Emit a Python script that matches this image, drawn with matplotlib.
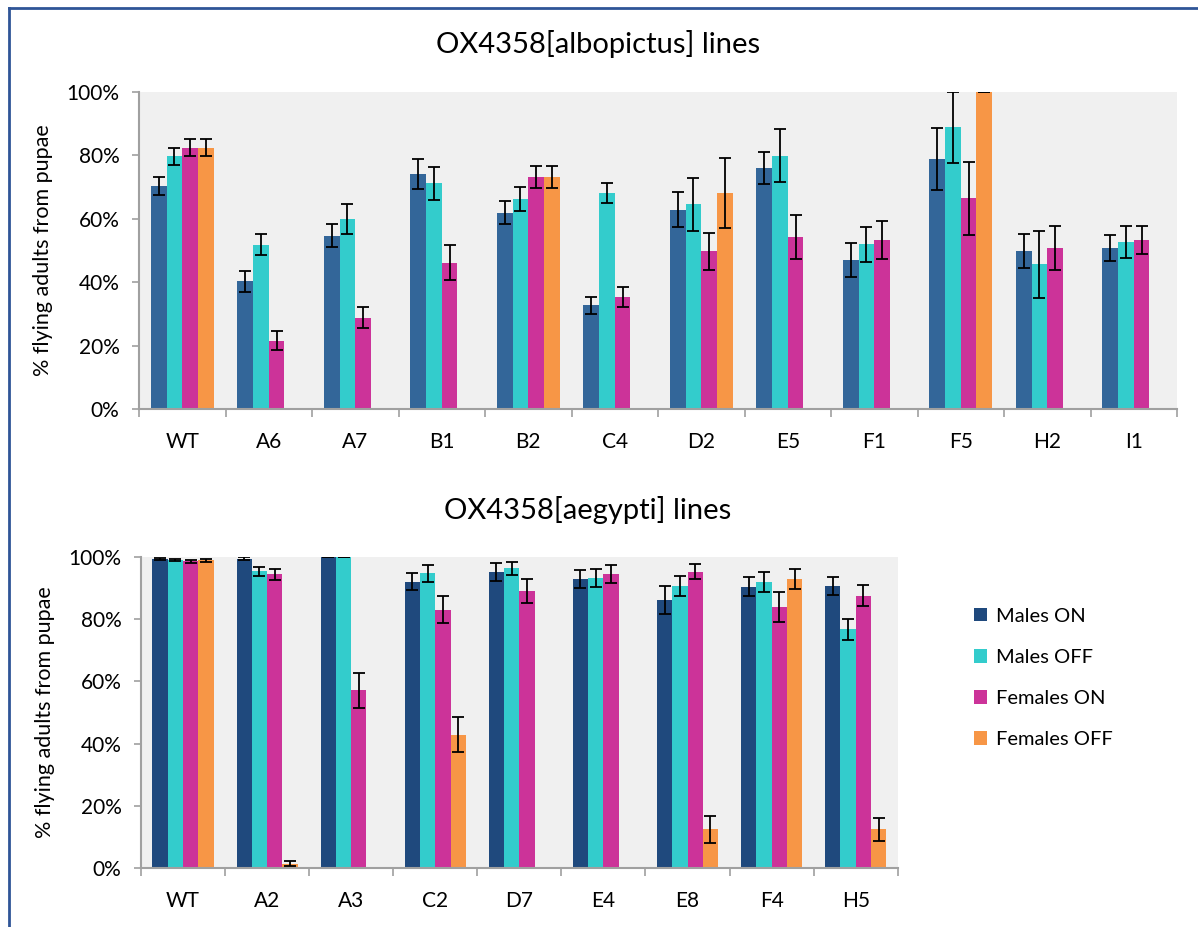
import numpy as np
import matplotlib
matplotlib.use("Agg")
import matplotlib.pyplot as plt
from matplotlib.patches import Patch
from matplotlib.ticker import FuncFormatter, FixedLocator

plt.rcParams['font.family'] = ['Lato', 'DejaVu Sans']

nan = np.nan
series = ["Males ON", "Males OFF", "Females ON", "Females OFF"]

# Top chart: OX4358[albopictus] lines
alb_cats = ["WT", "A6", "A7", "B1", "B2", "C4", "D2", "E5", "F1", "F5", "H2", "I1"]
alb_males_on = [70.3, 40.3, 54.7, 74.2, 61.9, 32.8, 62.9, 75.9, 46.9, 78.8, 49.8, 50.8]
alb_males_off = [79.6, 51.8, 60.0, 71.1, 66.1, 68.1, 64.5, 79.9, 52.0, 88.8, 45.6, 52.7]
alb_fem_on = [82.4, 21.6, 28.8, 46.2, 73.1, 35.3, 49.7, 54.2, 53.3, 66.5, 50.7, 53.3]
alb_fem_off = [82.4, nan, nan, nan, 73.1, nan, 68.2, nan, nan, 100.0, nan, nan]
alb_males_on_err = [2.9, 3.3, 3.7, 4.7, 3.6, 2.7, 5.5, 5.0, 5.4, 9.7, 5.4, 4.2]
alb_males_off_err = [2.7, 3.3, 4.7, 5.1, 3.8, 3.0, 8.4, 8.2, 5.5, 11.1, 10.4, 5.0]
alb_fem_on_err = [2.6, 3.0, 3.3, 5.6, 3.5, 3.1, 5.7, 6.9, 6.1, 11.5, 6.9, 4.5]
alb_fem_off_err = [2.6, nan, nan, nan, 3.5, nan, 11.0, nan, nan, 0.0, nan, nan]

# Bottom chart: OX4358[aegypti] lines
aeg_cats = ["WT", "A2", "A3", "C2", "D7", "E4", "E8", "F4", "H5"]
aeg_males_on = [99.4, 99.4, 100.0, 92.0, 95.1, 92.7, 86.1, 90.4, 90.5]
aeg_males_off = [98.9, 95.3, 100.0, 94.7, 96.3, 93.2, 90.6, 92.0, 76.7]
aeg_fem_on = [98.6, 94.4, 57.1, 83.0, 89.0, 94.4, 95.1, 83.9, 87.5]
aeg_fem_off = [98.9, 1.4, nan, 42.9, nan, nan, 12.5, 92.7, 12.5]
aeg_males_on_err = [0.3, 0.4, 0.0, 2.7, 2.8, 2.9, 4.4, 3.1, 2.9]
aeg_males_off_err = [0.4, 1.5, 0.0, 2.7, 2.1, 3.0, 3.3, 3.2, 3.4]
aeg_fem_on_err = [0.5, 1.8, 5.7, 4.3, 4.0, 2.8, 2.4, 4.9, 3.4]
aeg_fem_off_err = [0.5, 0.8, nan, 5.7, nan, nan, 4.3, 3.2, 3.7]

top_colors = ["#336699", "#33CCCC", "#CC3399", "#F79646"]
bot_colors = ["#1F497D", "#33CCCC", "#CC3399", "#F79646"]

TICK_FS = 15
W, H = 1198, 927
fig = plt.figure(figsize=(W / 100, H / 100), dpi=100)

# figure border
fig.add_artist(plt.Line2D([9 / W, 9 / W], [0, 1 - 8 / H], transform=fig.transFigure,
                          color="#2F5597", lw=2))
fig.add_artist(plt.Line2D([9 / W, 1], [1 - 8 / H, 1 - 8 / H], transform=fig.transFigure,
                          color="#2F5597", lw=2))


def draw(ax, cats, vals, errs, colors):
    n = len(cats)
    x = np.arange(n)
    bw = 0.182
    offsets = (np.arange(4) - 1.5) * bw
    for i in range(4):
        v = np.array(vals[i], dtype=float)
        e = np.array(errs[i], dtype=float)
        mask = ~np.isnan(v)
        ax.bar(x[mask] + offsets[i], v[mask], width=bw, color=colors[i],
               edgecolor="none", zorder=2)
        ax.errorbar(x[mask] + offsets[i], v[mask], yerr=e[mask], fmt="none",
                    ecolor="black", elinewidth=1.3, capsize=4, capthick=1.3, zorder=3)
    ax.set_xlim(-0.5, n - 0.5)
    ax.set_ylim(0, 100)
    ax.set_facecolor("#F0F0F0")
    ax.set_yticks([0, 20, 40, 60, 80, 100])
    ax.yaxis.set_major_formatter(FuncFormatter(lambda v, p: f"{v:.0f}%"))
    ax.xaxis.set_major_locator(FixedLocator(np.arange(n + 1) - 0.5))
    ax.xaxis.set_major_formatter(FuncFormatter(lambda v, p: ""))
    ax.set_xticks(x, minor=True)
    ax.set_xticklabels(cats, minor=True)
    ax.tick_params(axis="x", which="major", length=6, width=1.2, color="#A0A0A0", direction="out")
    ax.tick_params(axis="x", which="minor", length=0, pad=16, labelsize=TICK_FS)
    ax.tick_params(axis="y", length=5, width=1.2, color="#A0A0A0", pad=9, labelsize=TICK_FS)
    for s in ["top", "right"]:
        ax.spines[s].set_visible(False)
    for s in ["left", "bottom"]:
        ax.spines[s].set_color("#A0A0A0")
        ax.spines[s].set_linewidth(1.5)
    ax.set_ylabel("% flying adults from pupae", fontsize=15.5, labelpad=10)


ax1 = fig.add_axes([139 / W, 1 - 409.3 / H, (1177 - 139) / W, (409.3 - 91.7) / H])
draw(ax1, alb_cats, [alb_males_on, alb_males_off, alb_fem_on, alb_fem_off],
     [alb_males_on_err, alb_males_off_err, alb_fem_on_err, alb_fem_off_err], top_colors)

ax2 = fig.add_axes([141 / W, 1 - 868.3 / H, (897.7 - 141) / W, (868.3 - 556.7) / H])
draw(ax2, aeg_cats, [aeg_males_on, aeg_males_off, aeg_fem_on, aeg_fem_off],
     [aeg_males_on_err, aeg_males_off_err, aeg_fem_on_err, aeg_fem_off_err], bot_colors)

fig.text(598 / W, 1 - 44 / H, "OX4358[albopictus] lines", ha="center", va="center", fontsize=21)
fig.text(588 / W, 1 - 510 / H, "OX4358[aegypti] lines", ha="center", va="center", fontsize=21)

handles = [Patch(facecolor=c, edgecolor="none") for c in bot_colors]
fig.legend(handles, series, loc="center left", bbox_to_anchor=(974 / W, 1 - 678 / H),
           frameon=False, fontsize=14.5, handlelength=0.65, handleheight=0.65,
           handletextpad=0.45, labelspacing=1.2, borderpad=0, borderaxespad=0)

fig.savefig("out.png", dpi=100)
